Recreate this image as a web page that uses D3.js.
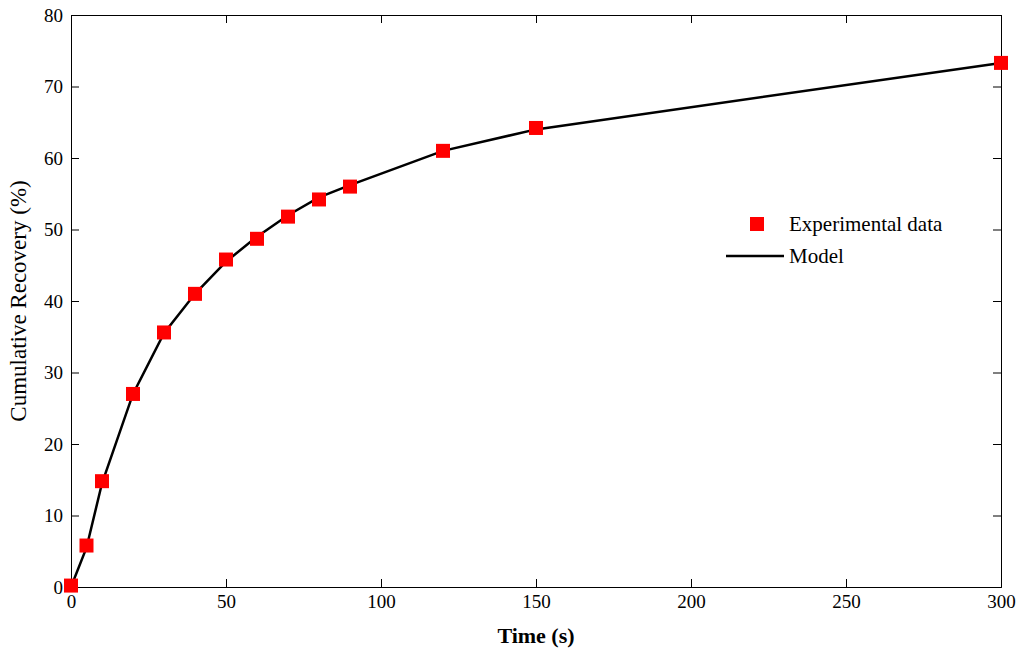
<!DOCTYPE html>
<html><head><meta charset="utf-8">
<script src="https://cdn.jsdelivr.net/npm/d3@7"></script>
<style>body{margin:0;background:#fff}svg{font-family:"Liberation Serif",serif}</style>
</head><body><svg id="c" width="1024" height="658"></svg>
<script>
const times=[0,5,10,20,30,40,50,60,70,80,90,120,150,300];
const recovery=[0.2,5.8,14.8,27,35.6,41,45.8,48.7,51.8,54.2,56,61,64.2,73.3];
const modelT=[0,5,10,20,30,40,50,60,70,80,90,120,150,300];
const modelY=[0,5.5,14.5,27,35.5,41,45.5,49,52,54.5,56.2,61,64,73.3];
const xTicks=[0,50,100,150,200,250,300];
const yTicks=[0,10,20,30,40,50,60,70,80];
const svg=d3.select("#c");
const L=71,R=1001,T=15,B=587;
const x=d3.scaleLinear().domain([0,300]).range([L,R]);
const y=d3.scaleLinear().domain([0,80]).range([B,T]);
const g=svg.append("g");
g.append("g").attr("transform",`translate(0,${B})`).call(d3.axisBottom(x).tickValues(xTicks).tickSize(-8).tickPadding(8));
g.append("g").attr("transform",`translate(0,${T})`).call(d3.axisTop(x).tickValues(xTicks).tickSize(-8).tickFormat(""));
g.append("g").attr("transform",`translate(${L},0)`).call(d3.axisLeft(y).tickValues(yTicks).tickSize(-8).tickPadding(8));
g.append("g").attr("transform",`translate(${R},0)`).call(d3.axisRight(y).tickValues(yTicks).tickSize(-8).tickFormat(""));
svg.selectAll(".domain").attr("stroke","#000");
svg.selectAll(".tick line").attr("stroke","#000");
svg.selectAll(".tick text").attr("font-size",19).attr("font-family","Liberation Serif").attr("fill","#000");
svg.append("path").datum(modelT.map((t,i)=>[t,modelY[i]])).attr("fill","none").attr("stroke","#000").attr("stroke-width",2.5)
 .attr("d",d3.line().x(d=>x(d[0])).y(d=>y(d[1])));
svg.selectAll("rect.p").data(times).enter().append("rect").attr("class","p")
 .attr("x",(d)=>x(d)-7).attr("y",(d,i)=>y(recovery[i])-7).attr("width",14).attr("height",14).attr("fill","#ff0000");
svg.append("rect").attr("x",750).attr("y",217).attr("width",14).attr("height",14).attr("fill","#ff0000");
svg.append("text").attr("x",789).attr("y",231).attr("font-size",21).text("Experimental data");
svg.append("line").attr("x1",726).attr("x2",784).attr("y1",256).attr("y2",256).attr("stroke","#000").attr("stroke-width",2.5);
svg.append("text").attr("x",789).attr("y",263).attr("font-size",21).text("Model");
svg.append("text").attr("x",(L+R)/2).attr("y",643).attr("text-anchor","middle").attr("font-size",22).attr("font-weight","bold").text("Time (s)");
svg.append("text").attr("transform",`translate(26,${(T+B)/2}) rotate(-90)`).attr("text-anchor","middle").attr("font-size",23).text("Cumulative Recovery (%)");
</script></body></html>
